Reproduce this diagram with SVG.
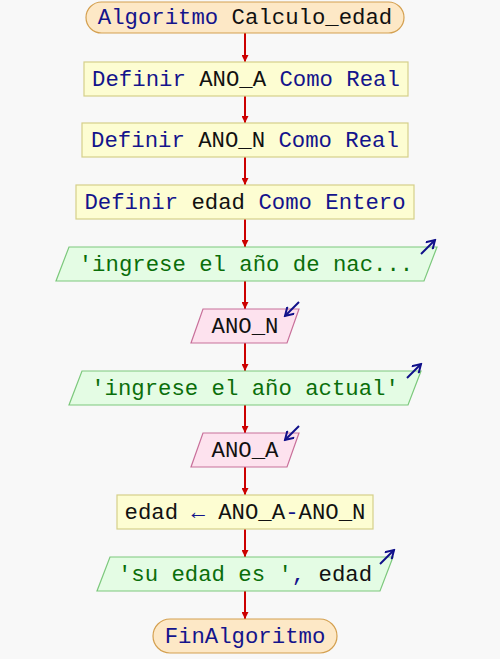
<svg xmlns="http://www.w3.org/2000/svg" width="500" height="659" viewBox="0 0 500 659">
  <defs>
    <marker id="flow" viewBox="0 0 10 10" refX="10" refY="5" markerWidth="10" markerHeight="7" markerUnits="userSpaceOnUse" orient="auto">
      <path d="M0,0 L10,5 L0,10 z" fill="#cc0000"/>
    </marker>
    <marker id="io" viewBox="0 0 10 10" refX="8.5" refY="5" markerWidth="11" markerHeight="11" markerUnits="userSpaceOnUse" orient="auto">
      <path d="M1,0.5 L8.5,5 L1,9.5" fill="none" stroke="#10108a" stroke-width="1.8"/>
    </marker>
    <style>
      .term { fill: #fde8c6; stroke: #d4a050; stroke-width: 1.2; }
      .proc { fill: #fdfdd2; stroke: #d6d08a; stroke-width: 1.2; }
      .out  { fill: #e4fce4; stroke: #7cc87c; stroke-width: 1.2; }
      .in   { fill: #fde2ee; stroke: #c8709a; stroke-width: 1.2; }
      .edge { stroke: #cc0000; stroke-width: 2; fill: none; marker-end: url(#flow); }
      .icon { stroke: #10108a; stroke-width: 2; fill: none; marker-end: url(#io); }
      text { font-family: "Liberation Mono", "DejaVu Sans Mono", monospace; font-size: 22.3px; text-anchor: middle; fill: #111111; }
      .kw { fill: #14148c; }
      .str { fill: #0a6e0a; }
    </style>
  </defs>

  <rect x="0" y="0" width="500" height="659" fill="#f8f8f8"/>

  <!-- flow connectors -->
  <g id="connectors">
    <line class="edge" x1="245" y1="33" x2="245" y2="62"/>
    <line class="edge" x1="245" y1="96" x2="245" y2="123"/>
    <line class="edge" x1="245" y1="157" x2="245" y2="185"/>
    <line class="edge" x1="245" y1="219" x2="245" y2="247"/>
    <line class="edge" x1="245" y1="281" x2="245" y2="309"/>
    <line class="edge" x1="245" y1="343" x2="245" y2="371"/>
    <line class="edge" x1="245" y1="405" x2="245" y2="433"/>
    <line class="edge" x1="245" y1="467" x2="245" y2="495"/>
    <line class="edge" x1="245" y1="529" x2="245" y2="557"/>
    <line class="edge" x1="245" y1="591" x2="245" y2="619"/>
  </g>

  <g id="start">
    <rect class="term" x="86" y="2" width="318" height="31" rx="15.5"/>
    <text x="245" y="24"><tspan class="kw">Algoritmo</tspan> Calculo_edad</text>
  </g>

  <g id="def-ano-a">
    <rect class="proc" x="84" y="62" width="324" height="34"/>
    <text x="246" y="86"><tspan class="kw">Definir</tspan> ANO_A <tspan class="kw">Como Real</tspan></text>
  </g>

  <g id="def-ano-n">
    <rect class="proc" x="82" y="123" width="326" height="34"/>
    <text x="245" y="147"><tspan class="kw">Definir</tspan> ANO_N <tspan class="kw">Como Real</tspan></text>
  </g>

  <g id="def-edad">
    <rect class="proc" x="76" y="185" width="338" height="34"/>
    <text x="245" y="209"><tspan class="kw">Definir</tspan> edad <tspan class="kw">Como Entero</tspan></text>
  </g>

  <g id="write-nac">
    <polygon class="out" points="69,247 437,247 424,281 56,281"/>
    <line class="icon" x1="421" y1="254" x2="435" y2="240"/>
    <text x="246" y="271" class="str">'ingrese el año de nac...</text>
  </g>

  <g id="read-ano-n">
    <polygon class="in" points="203,309 299,309 287,343 191,343"/>
    <line class="icon" x1="299" y1="302" x2="285" y2="316"/>
    <text x="245" y="333">ANO_N</text>
  </g>

  <g id="write-actual">
    <polygon class="out" points="82,371 421,371 408,405 69,405"/>
    <line class="icon" x1="407" y1="378" x2="421" y2="364"/>
    <text x="245" y="395" class="str">'ingrese el año actual'</text>
  </g>

  <g id="read-ano-a">
    <polygon class="in" points="203,433 299,433 287,467 191,467"/>
    <line class="icon" x1="299" y1="426" x2="285" y2="440"/>
    <text x="245" y="457">ANO_A</text>
  </g>

  <g id="assign-edad">
    <rect class="proc" x="117" y="495" width="256" height="34"/>
    <text x="245" y="519">edad <tspan class="kw">←</tspan> ANO_A<tspan class="kw">-</tspan>ANO_N</text>
  </g>

  <g id="write-edad">
    <polygon class="out" points="110,557 393,557 380,591 97,591"/>
    <line class="icon" x1="380" y1="564" x2="394" y2="550"/>
    <text x="245" y="581"><tspan class="str">'su edad es '</tspan><tspan class="kw">,</tspan> edad</text>
  </g>

  <g id="end">
    <rect class="term" x="153" y="619" width="184" height="34" rx="17"/>
    <text x="245" y="643" class="kw">FinAlgoritmo</text>
  </g>
</svg>
